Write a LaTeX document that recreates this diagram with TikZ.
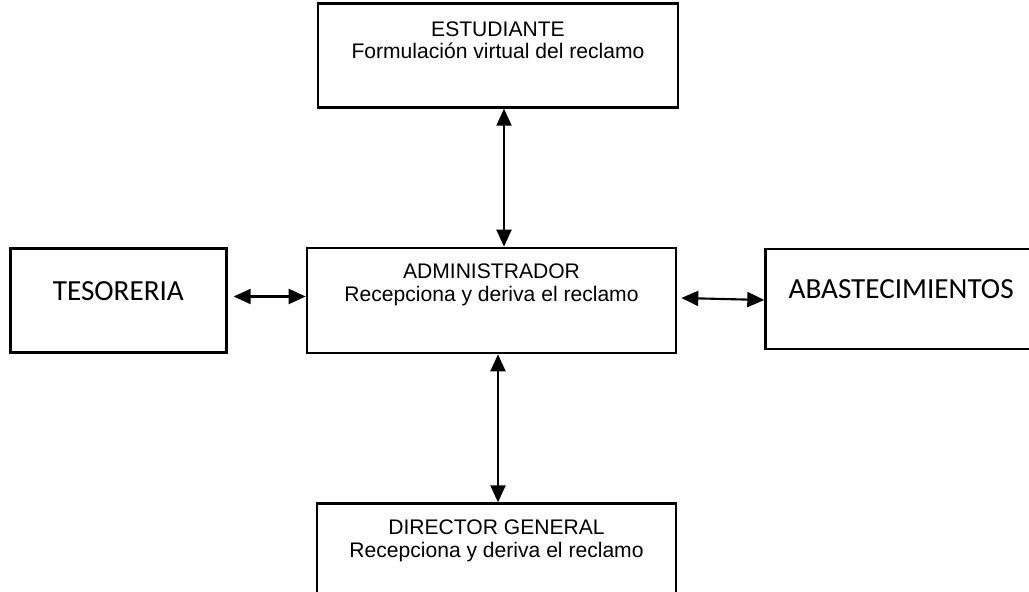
\documentclass[tikz,border=0pt]{standalone}
\usepackage{fontspec}
\setmainfont{Liberation Sans}
\newfontfamily\calibfont{Carlito}
\usetikzlibrary{arrows.meta,positioning}

\begin{document}
\begin{tikzpicture}[
    blockbox/.style={rectangle, draw=black, line width=1.5pt, fill=white},
    headtxt/.style={inner sep=0pt, align=center, font=\fontsize{12}{12.9}\selectfont},
    bigtxt/.style={inner sep=0pt, font=\calibfont\fontsize{16.6}{19}\selectfont},
    arr/.style={{Triangle[length=3.4mm,width=3mm]}-{Triangle[length=3.4mm,width=3mm]}, line width=1.2pt}
]
\useasboundingbox (-9.83,-5.83) rectangle (10.75,6.01);
\clip (-9.83,-5.83) rectangle (10.75,6.01);

\node[blockbox, minimum width=7.38cm, minimum height=2.1cm] (adm) at (0,0) {};
\node[blockbox, minimum width=7.2cm, minimum height=2.08cm, above=2.76cm of adm, xshift=0.13cm] (est) {};
\node[blockbox, minimum width=7.18cm, minimum height=2.08cm, below=2.96cm of adm, xshift=0.1cm] (dir) {};
\node[blockbox, minimum width=4.32cm, minimum height=2.08cm, left=1.56cm of adm] (tes) {};
\node[blockbox, minimum width=5.42cm, minimum height=2cm, right=1.74cm of adm, yshift=0.03cm] (aba) {};

\node[headtxt, below=0.38cm of est.north] (estT) {ESTUDIANTE\\Formulación virtual del reclamo};
\node[headtxt, below=0.34cm of adm.north] (admT) {ADMINISTRADOR\\Recepciona y deriva el reclamo};
\node[headtxt, below=0.35cm of dir.north] (dirT) {DIRECTOR GENERAL\\Recepciona y deriva el reclamo};
\node[bigtxt, above=0.18cm of tes.center, anchor=center] (tesT) {TESORERIA};
\node[bigtxt, above=0.2cm of aba.center, anchor=center] (abaT) {ABASTECIMIENTOS};

\draw[arr] ([xshift=0.12cm]est.south) -- ([xshift=0.12cm]est.south |- adm.north);
\draw[arr] ([xshift=0.13cm]adm.south) -- ([xshift=0.13cm]adm.south |- dir.north);
\draw[arr] ([xshift=0.12cm,yshift=0.08cm]tes.east) -- ([yshift=0.08cm]tes.east -| adm.west);
\draw[arr] ([xshift=0.08cm,yshift=0.05cm]adm.east) -- ([yshift=-0.02cm]aba.west);
\end{tikzpicture}
\end{document}
